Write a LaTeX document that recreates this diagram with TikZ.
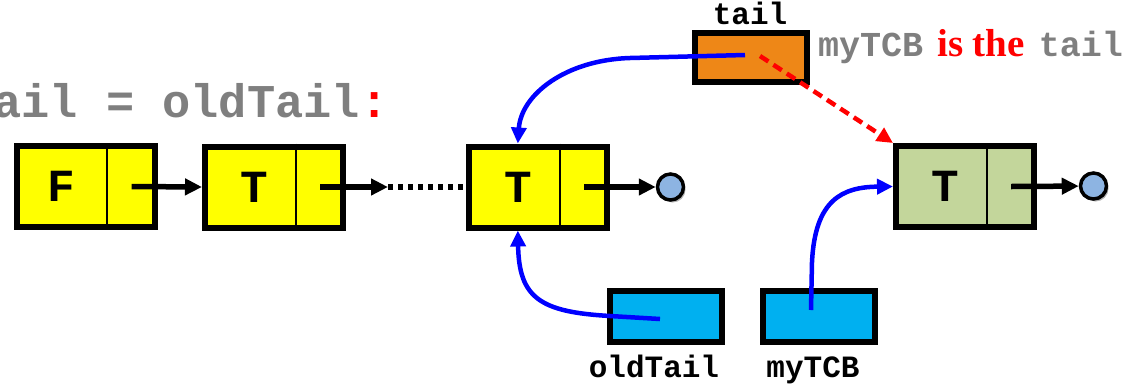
\documentclass[tikz,border=0pt]{standalone}
\usepackage{fontspec}
\setmainfont{Liberation Serif}
\setmonofont{Liberation Mono}
\usetikzlibrary{arrows.meta,calc,shadows}

\definecolor{nodeyellow}{HTML}{FFFF00}
\definecolor{nodegreen}{HTML}{C3D69B}
\definecolor{ptrorange}{HTML}{EE8717}
\definecolor{ptrblue}{HTML}{00B0F0}
\definecolor{nilblue}{HTML}{8DB4E2}
\definecolor{codegrey}{HTML}{7F7F7F}
\definecolor{linkblue}{HTML}{0000FF}

\begin{document}
\begin{tikzpicture}[x=1pt,y=-1pt,
  softshadow/.style={drop shadow={shadow xshift=2pt,shadow yshift=-2.5pt,opacity=0.3,fill=black}},
  cell/.style={draw=black,line width=6pt,minimum width=138pt,minimum height=81pt,
    inner sep=0pt,softshadow},
  varbox/.style={draw=black,line width=6pt,minimum width=112pt,minimum height=51pt,
    inner sep=0pt,softshadow},
  key/.style={font=\ttfamily\bfseries\fontsize{46}{46}\selectfont,inner sep=0pt},
  varname/.style={font=\ttfamily\bfseries\fontsize{31}{31}\selectfont,inner sep=0pt,anchor=base},
  nil/.style={circle,draw=black,line width=3.5pt,fill=nilblue,minimum size=26pt,inner sep=0pt,softshadow},
  divider/.style={draw=black,line width=2.2pt},
  ptr/.style={draw=black,line width=5.5pt,-{Triangle[length=17pt,width=16pt]}},
  dots/.style={draw=black,line width=5.5pt,dash pattern=on 5pt off 5pt},
  link/.style={draw=linkblue,line width=4.5pt,-{Triangle[length=16pt,width=15pt]}},
  newlink/.style={draw=red,line width=4.5pt,dash pattern=on 10pt off 6pt,-{Triangle[length=16pt,width=15pt]}}
]
\useasboundingbox (0,0) rectangle (1128,384);

% code line (runs off the left edge)
\node[anchor=base west,inner sep=0pt,text=codegrey,
      font=\ttfamily\bfseries\fontsize{47}{47}\selectfont] (code) at (-35,117)
  {tail = oldTail\textcolor{red}{:}};

% list cells
\node[cell,fill=nodeyellow] (f)  at (85.5,186.5) {};
\node[cell,fill=nodeyellow] (t1) at (274,187) {};
\node[cell,fill=nodeyellow] (t2) at (538,187) {};
\node[cell,fill=nodegreen]  (g)  at (965,186.5) {};

\foreach \c in {f,t1,t2,g}{
  \draw[divider] ($(\c.north west)!0.65!(\c.north east)$) -- ($(\c.south west)!0.65!(\c.south east)$);
  \coordinate (\c-ptr) at ($(\c.west)!0.82!(\c.east)$);
}

\node[key] (f-key)  at ($(f.west)!0.33!(f.east)$)   {F};
\node[key] (t1-key) at ($(t1.west)!0.36!(t1.east)$) {T};
\node[key] (t2-key) at ($(t2.west)!0.36!(t2.east)$) {T};
\node[key] (g-key)  at ($(g.west)!0.36!(g.east)$)   {T};

% null ends
\node[nil] (t2-nil) at (670.5,187) {};
\node[nil] (g-nil)  at (1093.5,186) {};

% next pointers
\coordinate (gap) at (388,187);
\draw[ptr] (f-ptr) -- (t1.west);
\draw[ptr] (t1-ptr) -- (gap);
\draw[dots] (gap) -- (t2.west);
\draw[ptr] (t2-ptr) -- (t2-nil);
\draw[ptr] (g-ptr) -- (g-nil);

% pointer variables
\node[varbox,fill=ptrorange,minimum height=49pt] (tail) at (751,57.5) {};
\node[varbox,fill=ptrblue] (old) at (666,316.5) {};
\node[varbox,fill=ptrblue] (tcb) at (819,316.5) {};

\node[varname] (tail-name) at (750,24)  {tail};
\node[varname] (old-name)  at (654,377) {oldTail};
\node[varname] (tcb-name)  at (813,377) {myTCB};

\node[anchor=base west,inner sep=0pt,text=codegrey,
      font=\ttfamily\bfseries\fontsize{35}{35}\selectfont] (note) at (818,56)
  {myTCB\hspace{14pt}{\rmfamily\bfseries\fontsize{39}{39}\selectfont\textcolor{red}{is the}}\hspace{14pt}tail};

% where the pointers lead
\coordinate (tail-src) at (745,55);
\coordinate (old-src)  at (660,319);
\coordinate (tcb-src)  at (811,310);
\coordinate (tail-dst) at ($(t2.north west)!0.36!(t2.north east)$);
\coordinate (old-dst)  at ($(t2.south west)!0.36!(t2.south east)$);

\draw[link] (tail-src) -- (630,58) .. controls (565,60) and (521,95) .. (tail-dst);
\draw[link] (old-src) -- (610,316) .. controls (540,312) and (519,298) .. (old-dst);
\draw[link] (tcb-src) -- (812,262) .. controls (815,200) and (842,187) .. (g.west);
\draw[newlink] (760,56) -- (g.north west);
\end{tikzpicture}
\end{document}
